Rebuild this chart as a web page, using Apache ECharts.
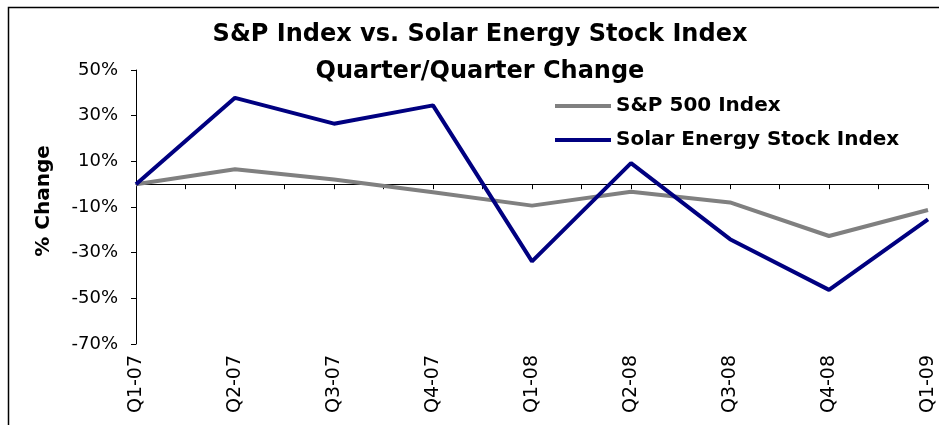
<!DOCTYPE html>
<html>
<head>
<meta charset="utf-8">
<title>S&amp;P Index vs. Solar Energy Stock Index</title>
<script src="https://cdn.jsdelivr.net/npm/echarts@6/dist/echarts.min.js"></script>
<style>
  html, body { margin: 0; padding: 0; background: #fff; }
  #chart { width: 939px; height: 425px; }
</style>
</head>
<body>
<div id="chart"></div>
<script>
// quarter-over-quarter change, in %
const quarters = ['Q1-07', 'Q2-07', 'Q3-07', 'Q4-07', 'Q1-08', 'Q2-08', 'Q3-08', 'Q4-08', 'Q1-09'];
const sp500 = [0, 6.5, 2.0, -3.5, -9.4, -3.3, -8.0, -22.7, -11.3];
const solar = [0, 37.8, 26.5, 34.5, -33.8, 9.2, -24.1, -46.3, -15.4];
const yMin = -70;
const yMax = 50;
const yStep = 20;

const font = 'DejaVu Sans';
const chart = echarts.init(document.getElementById('chart'));

const option = {
  animation: false,
  backgroundColor: '#fff',
  title: {
    text: 'S&P Index vs. Solar Energy Stock Index\nQuarter/Quarter Change',
    left: 480,
    top: 16,
    padding: 0,
    textAlign: 'center',
    textStyle: {
      fontFamily: font,
      fontSize: 24,
      fontWeight: 'bold',
      lineHeight: 37,
      color: '#000'
    }
  },
  legend: {
    orient: 'vertical',
    left: 550,
    top: 91,
    icon: 'rect',
    itemWidth: 56,
    itemHeight: 4,
    itemGap: 14,
    textStyle: { fontFamily: font, fontSize: 20, fontWeight: 'bold', color: '#000' },
    data: ['S&P 500 Index', 'Solar Energy Stock Index']
  },
  grid: { left: 136, right: 11, top: 70, bottom: 81, containLabel: false },
  xAxis: [
    {
      type: 'category',
      data: quarters,
      boundaryGap: false,
      position: 'bottom',
      axisLine: { show: false, onZero: false },
      axisTick: { show: false },
      axisLabel: { rotate: 90, interval: 0, margin: 11, fontFamily: font, fontSize: 19, color: '#000' },
      splitLine: { show: false }
    },
    {
      // zero line with ticks at each quarter and half quarter
      type: 'value',
      position: 'top',
      min: 0,
      max: quarters.length - 1,
      interval: 0.5,
      axisLine: { show: true, onZero: true, lineStyle: { color: '#000', width: 1 } },
      axisTick: { show: true, inside: true, length: 5, lineStyle: { color: '#000' } },
      axisLabel: { show: false },
      splitLine: { show: false }
    }
  ],
  yAxis: {
    type: 'value',
    min: yMin,
    max: yMax,
    interval: yStep,
    name: '% Change',
    nameLocation: 'middle',
    nameGap: 82,
    nameTextStyle: { fontFamily: font, fontSize: 20, fontWeight: 'bold', color: '#000', padding: [0, 0, 0, 12] },
    axisLine: { show: true, lineStyle: { color: '#000', width: 1 } },
    axisTick: { show: true, length: 5, lineStyle: { color: '#000' } },
    axisLabel: { formatter: '{value}%', margin: 18, fontFamily: font, fontSize: 18, color: '#000' },
    splitLine: { show: false }
  },
  graphic: [
    {
      type: 'rect',
      silent: true,
      shape: { x: 8.5, y: 7.5, width: 1200, height: 800 },
      style: { fill: 'none', stroke: '#000', lineWidth: 1.5 }
    }
  ],
  series: [
    {
      name: 'S&P 500 Index',
      type: 'line',
      data: sp500,
      symbol: 'none',
      lineStyle: { width: 4, color: '#808080' },
      itemStyle: { color: '#808080' }
    },
    {
      name: 'Solar Energy Stock Index',
      type: 'line',
      data: solar,
      symbol: 'none',
      lineStyle: { width: 4, color: '#000080' },
      itemStyle: { color: '#000080' }
    }
  ]
};

chart.setOption(option);
window.addEventListener('resize', () => chart.resize());
</script>
</body>
</html>
